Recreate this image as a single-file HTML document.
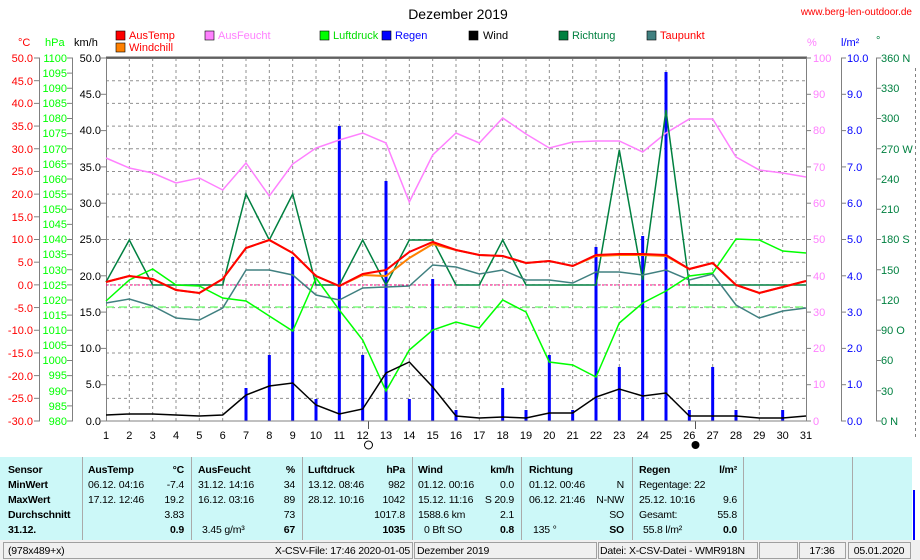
<!DOCTYPE html>
<html><head><meta charset="utf-8"><style>
body{margin:0;width:920px;height:560px;background:#fff;overflow:hidden;font-family:"Liberation Sans",sans-serif}
svg{display:block}
text{font-family:"Liberation Sans",sans-serif;font-size:11px}
.tb text{font-size:10.5px;letter-spacing:-0.2px}
</style></head><body>
<svg id="s" width="920" height="560" xmlns="http://www.w3.org/2000/svg">
<rect width="920" height="560" fill="#fff"/>
<g id="grid"></g>
<text x="458" y="19" text-anchor="middle" style="font-size:14px">Dezember 2019</text>
<text x="912" y="15" fill="#ff0000" text-anchor="end" style="font-size:10px">www.berg-len-outdoor.de</text>
<g>
<rect x="116" y="31" width="9" height="9" fill="#ff0000" stroke="#000" stroke-width="0.6"/><text x="129" y="39" fill="#ff0000">AusTemp</text>
<rect x="116" y="43" width="9" height="9" fill="#ff8000" stroke="#000" stroke-width="0.6"/><text x="129" y="51" fill="#ff0000">Windchill</text>
<rect x="205" y="31" width="9" height="9" fill="#ff80ff" stroke="#000" stroke-width="0.6"/><text x="218" y="39" fill="#ff80ff">AusFeucht</text>
<rect x="320" y="31" width="9" height="9" fill="#00ff00" stroke="#000" stroke-width="0.6"/><text x="333" y="39" fill="#00dd00">Luftdruck</text>
<rect x="382" y="31" width="9" height="9" fill="#0000ff" stroke="#000" stroke-width="0.6"/><text x="395" y="39" fill="#0000ff">Regen</text>
<rect x="469" y="31" width="9" height="9" fill="#000" stroke="#000" stroke-width="0.6"/><text x="483" y="39" fill="#000">Wind</text>
<rect x="559" y="31" width="9" height="9" fill="#008040" stroke="#000" stroke-width="0.6"/><text x="572" y="39" fill="#008040">Richtung</text>
<rect x="647" y="31" width="9" height="9" fill="#408080" stroke="#000" stroke-width="0.6"/><text x="660" y="39" fill="#ff0000">Taupunkt</text>
</g>
<text x="18" y="46" fill="#ff0000">°C</text>
<text x="45" y="46" fill="#00ff00">hPa</text>
<text x="74" y="46" fill="#000">km/h</text>
<text x="807" y="46" fill="#ff80ff">%</text>
<text x="841" y="46" fill="#0000ff">l/m²</text>
<text x="876" y="44" fill="#008040">°</text>
<g stroke="#808080" stroke-width="1">
<line x1="39.5" y1="58" x2="39.5" y2="421"/>
<line x1="72.5" y1="58" x2="72.5" y2="421"/>
<line x1="841.5" y1="58" x2="841.5" y2="421"/>
<line x1="876.5" y1="58" x2="876.5" y2="421"/>
<line x1="915.5" y1="68" x2="915.5" y2="440" stroke-dasharray="3,3"/>
</g>
<g id="ticks" stroke="#808080"></g>
<g fill="#ff0000" text-anchor="end">
<text x="33" y="62">50.0</text><text x="33" y="85">45.0</text><text x="33" y="107">40.0</text><text x="33" y="130">35.0</text><text x="33" y="153">30.0</text><text x="33" y="175">25.0</text><text x="33" y="198">20.0</text><text x="33" y="221">15.0</text><text x="33" y="243">10.0</text><text x="33" y="266">5.0</text><text x="33" y="289">0.0</text><text x="33" y="312">-5.0</text><text x="33" y="334">-10.0</text><text x="33" y="357">-15.0</text><text x="33" y="380">-20.0</text><text x="33" y="402">-25.0</text><text x="33" y="425">-30.0</text>
</g>
<g fill="#00ff00" text-anchor="end">
<text x="67" y="62">1100</text><text x="67" y="77">1095</text><text x="67" y="92">1090</text><text x="67" y="107">1085</text><text x="67" y="122">1080</text><text x="67" y="137">1075</text><text x="67" y="153">1070</text><text x="67" y="168">1065</text><text x="67" y="183">1060</text><text x="67" y="198">1055</text><text x="67" y="213">1050</text><text x="67" y="228">1045</text><text x="67" y="243">1040</text><text x="67" y="258">1035</text><text x="67" y="274">1030</text><text x="67" y="289">1025</text><text x="67" y="304">1020</text><text x="67" y="319">1015</text><text x="67" y="334">1010</text><text x="67" y="349">1005</text><text x="67" y="364">1000</text><text x="67" y="379">995</text><text x="67" y="395">990</text><text x="67" y="410">985</text><text x="67" y="425">980</text>
</g>
<g fill="#000" text-anchor="end">
<text x="101" y="62">50.0</text><text x="101" y="98">45.0</text><text x="101" y="134">40.0</text><text x="101" y="171">35.0</text><text x="101" y="207">30.0</text><text x="101" y="243">25.0</text><text x="101" y="280">20.0</text><text x="101" y="316">15.0</text><text x="101" y="352">10.0</text><text x="101" y="388">5.0</text><text x="101" y="425">0.0</text>
</g>
<g fill="#ff80ff">
<text x="813" y="62">100</text><text x="813" y="98">90</text><text x="813" y="134">80</text><text x="813" y="171">70</text><text x="813" y="207">60</text><text x="813" y="243">50</text><text x="813" y="280">40</text><text x="813" y="316">30</text><text x="813" y="352">20</text><text x="813" y="388">10</text><text x="813" y="425">0</text>
</g>
<g fill="#0000ff">
<text x="847" y="62">10.0</text><text x="847" y="98">9.0</text><text x="847" y="134">8.0</text><text x="847" y="171">7.0</text><text x="847" y="207">6.0</text><text x="847" y="243">5.0</text><text x="847" y="280">4.0</text><text x="847" y="316">3.0</text><text x="847" y="352">2.0</text><text x="847" y="388">1.0</text><text x="847" y="425">0.0</text>
</g>
<g fill="#008040">
<text x="881" y="62">360 N</text><text x="881" y="92">330</text><text x="881" y="122">300</text><text x="881" y="153">270 W</text><text x="881" y="183">240</text><text x="881" y="213">210</text><text x="881" y="243">180 S</text><text x="881" y="274">150</text><text x="881" y="304">120</text><text x="881" y="334">90 O</text><text x="881" y="364">60</text><text x="881" y="395">30</text><text x="881" y="425">0 N</text>
</g>
<g text-anchor="middle" fill="#000">
<text x="106" y="439">1</text><text x="129.3" y="439">2</text><text x="152.7" y="439">3</text><text x="176" y="439">4</text><text x="199.3" y="439">5</text><text x="222.7" y="439">6</text><text x="246" y="439">7</text><text x="269.3" y="439">8</text><text x="292.7" y="439">9</text><text x="316" y="439">10</text><text x="339.3" y="439">11</text><text x="362.7" y="439">12</text><text x="386" y="439">13</text><text x="409.3" y="439">14</text><text x="432.7" y="439">15</text><text x="456" y="439">16</text><text x="479.3" y="439">17</text><text x="502.7" y="439">18</text><text x="526" y="439">19</text><text x="549.3" y="439">20</text><text x="572.7" y="439">21</text><text x="596" y="439">22</text><text x="619.3" y="439">23</text><text x="642.7" y="439">24</text><text x="666" y="439">25</text><text x="689.3" y="439">26</text><text x="712.7" y="439">27</text><text x="736" y="439">28</text><text x="759.3" y="439">29</text><text x="782.7" y="439">30</text><text x="806" y="439">31</text>
</g>
<line x1="368.5" y1="421" x2="368.5" y2="429" stroke="#555"/>
<circle cx="368.5" cy="445" r="4" fill="none" stroke="#000"/>
<line x1="695.5" y1="421" x2="695.5" y2="429" stroke="#555"/>
<circle cx="695.5" cy="445" r="4" fill="#000"/>
<g id="data"></g>
<rect x="0" y="457" width="912" height="83" fill="#ccf8f8"/>
<g stroke="#aaaaaa">
<line x1="82.5" y1="457" x2="82.5" y2="540"/><line x1="191.5" y1="457" x2="191.5" y2="540"/><line x1="302.5" y1="457" x2="302.5" y2="540"/><line x1="412.5" y1="457" x2="412.5" y2="540"/><line x1="521.5" y1="457" x2="521.5" y2="540"/><line x1="632.5" y1="457" x2="632.5" y2="540"/><line x1="743.5" y1="457" x2="743.5" y2="540"/><line x1="852.5" y1="457" x2="852.5" y2="540"/>
</g>
<g class="tb">
<g style="font-weight:bold">
<text x="8" y="473">Sensor</text><text x="8" y="488">MinWert</text><text x="8" y="503">MaxWert</text><text x="8" y="518">Durchschnitt</text><text x="8" y="533">31.12.</text>
<text x="88" y="473">AusTemp</text><text x="184" y="473" text-anchor="end">°C</text>
<text x="198" y="473">AusFeucht</text><text x="295" y="473" text-anchor="end">%</text>
<text x="308" y="473">Luftdruck</text><text x="405" y="473" text-anchor="end">hPa</text>
<text x="418" y="473">Wind</text><text x="514" y="473" text-anchor="end">km/h</text>
<text x="529" y="473">Richtung</text>
<text x="639" y="473">Regen</text><text x="737" y="473" text-anchor="end">l/m²</text>
<text x="184" y="533" text-anchor="end">0.9</text><text x="295" y="533" text-anchor="end">67</text><text x="405" y="533" text-anchor="end">1035</text><text x="514" y="533" text-anchor="end">0.8</text><text x="624" y="533" text-anchor="end">SO</text><text x="737" y="533" text-anchor="end">0.0</text>
</g>
<text x="88" y="488">06.12.  04:16</text><text x="184" y="488" text-anchor="end">-7.4</text>
<text x="88" y="503">17.12.  12:46</text><text x="184" y="503" text-anchor="end">19.2</text>
<text x="184" y="518" text-anchor="end">3.83</text>
<text x="198" y="488">31.12.  14:16</text><text x="295" y="488" text-anchor="end">34</text>
<text x="198" y="503">16.12.  03:16</text><text x="295" y="503" text-anchor="end">89</text>
<text x="295" y="518" text-anchor="end">73</text><text x="202" y="533">3.45 g/m³</text>
<text x="308" y="488">13.12.  08:46</text><text x="405" y="488" text-anchor="end">982</text>
<text x="308" y="503">28.12.  10:16</text><text x="405" y="503" text-anchor="end">1042</text>
<text x="405" y="518" text-anchor="end">1017.8</text>
<text x="418" y="488">01.12.  00:16</text><text x="514" y="488" text-anchor="end">0.0</text>
<text x="418" y="503">15.12.  11:16</text><text x="514" y="503" text-anchor="end">S 20.9</text>
<text x="418" y="518">1588.6 km</text><text x="514" y="518" text-anchor="end">2.1</text>
<text x="424" y="533">0 Bft SO</text>
<text x="529" y="488">01.12.  00:46</text><text x="624" y="488" text-anchor="end">N</text>
<text x="529" y="503">06.12.  21:46</text><text x="624" y="503" text-anchor="end">N-NW</text>
<text x="624" y="518" text-anchor="end">SO</text><text x="533" y="533">135 °</text>
<text x="639" y="488">Regentage: 22</text>
<text x="639" y="503">25.12.  10:16</text><text x="737" y="503" text-anchor="end">9.6</text>
<text x="639" y="518">Gesamt:</text><text x="737" y="518" text-anchor="end">55.8</text>
<text x="643" y="533">55.8 l/m²</text>
</g>
<rect x="0" y="540" width="920" height="20" fill="#f0f0f0"/>
<g fill="none" stroke="#a0a0a0">
<rect x="3.5" y="542.5" width="409" height="16"/>
<rect x="414.5" y="542.5" width="182" height="16"/>
<rect x="598.5" y="542.5" width="159" height="16"/>
<rect x="759.5" y="542.5" width="38" height="16"/>
<rect x="799.5" y="542.5" width="46" height="16"/>
<rect x="848.5" y="542.5" width="62" height="16"/>
</g>
<g class="tb">
<text x="8" y="554">(978x489+x)</text>
<text x="410" y="554" text-anchor="end">X-CSV-File:  17:46  2020-01-05</text>
<text x="417" y="554">Dezember 2019</text>
<text x="600" y="554">Datei: X-CSV-Datei - WMR918N</text>
<text x="822" y="554" text-anchor="middle">17:36</text>
<text x="879" y="554" text-anchor="middle">05.01.2020</text>
</g>
<line x1="914" y1="490" x2="914" y2="540" stroke="#0000ff" stroke-width="2"/>
</svg>
<script>
(function(){
var NS="http://www.w3.org/2000/svg";
function el(p,t,a){var e=document.createElementNS(NS,t);for(var k in a)e.setAttribute(k,a[k]);p.appendChild(e);return e;}
var g=document.getElementById("grid"),tk=document.getElementById("ticks"),d=document.getElementById("data");
function X(i){return 106+i*700/30;}
for(var i=1;i<30;i++)el(g,"line",{x1:X(i),y1:58,x2:X(i),y2:421,stroke:"#909090","stroke-dasharray":"3,3"});
for(var j=1;j<16;j++){var y=58+j*363/16;el(g,"line",{x1:106,y1:y,x2:806,y2:y,stroke:"#909090","stroke-dasharray":"3,3"});}
el(g,"rect",{x:106.5,y:58.5,width:700,height:362.5,fill:"none",stroke:"#808080"});
el(g,"line",{x1:106,y1:57.5,x2:807,y2:57.5,stroke:"#606060","stroke-width":2});
for(var j=0;j<=16;j++){var y=58+j*363/16;el(tk,"line",{x1:34,y1:y,x2:40,y2:y});}
for(var j=0;j<=24;j++){var y=58+j*363/24;el(tk,"line",{x1:67,y1:y,x2:73,y2:y});}
for(var j=0;j<=10;j++){var y=58+j*36.3;el(tk,"line",{x1:101,y1:y,x2:106,y2:y});el(tk,"line",{x1:806,y1:y,x2:811,y2:y});el(tk,"line",{x1:841,y1:y,x2:846,y2:y});}
for(var j=0;j<=12;j++){var y=58+j*30.25;el(tk,"line",{x1:876,y1:y,x2:881,y2:y});}
el(d,"line",{x1:106,y1:285,x2:806,y2:285,stroke:"#ff0080","stroke-dasharray":"2,2"});
el(d,"line",{x1:106,y1:307,x2:806,y2:307,stroke:"#80ff80","stroke-dasharray":"8,5","stroke-width":1.5});
function pl(arr,col,w){var p=arr.map(function(v,i){return X(i).toFixed(1)+","+v;}).join(" ");el(d,"polyline",{points:p,fill:"none",stroke:col,"stroke-width":w});}
var rain={7:388,8:355,9:257,10:399,11:126,12:355,13:181,14:399,15:279,16:410,18:388,19:410,20:355,21:410,22:247,23:367,24:236,25:72,26:410,27:367,28:410,30:410};
for(var k in rain){el(d,"line",{x1:X(k-1),y1:rain[k],x2:X(k-1),y2:421,stroke:"#0000ff","stroke-width":3});}
pl([158,168,173,183,178,190,163,196,164,148,140,133,143,202,155,133,143,118,134,148,142,141,141,152,133,119,119,157,170,173,177],"#ff80ff",1.5);
pl([282,240,285,285,285,285,194,240,194,285,285,240,285,240,240,285,285,240,285,285,285,285,150,280,110,285,285,285,285,285,285],"#008040",1.5);
pl([303,299,306,318,320,308,270,270,275,295,300,288,287,286,265,267,274,270,280,280,283,272,272,275,270,280,274,305,318,311,308],"#408080",1.5);
pl([301,280,269,285,286,298,301,316,331,278,310,340,391,350,330,322,328,300,312,362,365,377,323,303,291,276,273,239,240,251,253],"#00ff00",1.5);
pl([282,276,279,290,293,279,248,240,253,276,286,275,276,258,244,250,255,256,263,261,266,256,255,255,256,269,263,285,293,287,281],"#ff8000",2);
pl([282,276,279,290,293,279,248,240,253,276,286,274,270,252,242,250,255,256,263,261,266,255,254,254,255,269,263,285,293,287,281],"#ff0000",2);
pl([415,414,414,415,416,415,395,386,383,405,414,409,373,362,387,416,418,417,418,413,413,397,389,396,393,416,416,416,418,418,416],"#000000",1.5);
el(d,"line",{x1:106,y1:421,x2:806,y2:421,stroke:"#808080"});
})();
</script>
</body></html>
